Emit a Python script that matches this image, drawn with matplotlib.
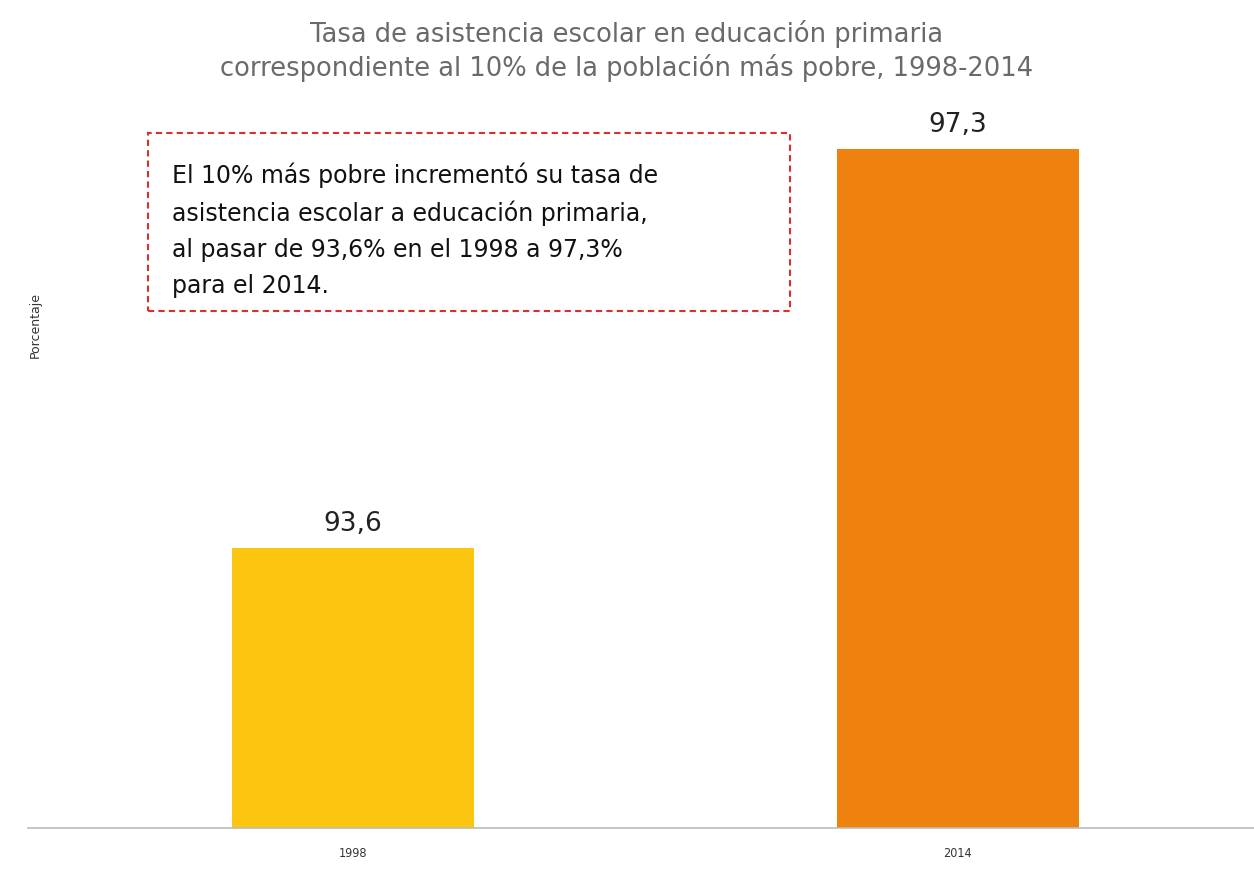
import matplotlib.pyplot as plt
from matplotlib.patches import FancyBboxPatch

years = ['1998', '2014']
values = [93.6, 97.3]
value_labels = ['93,6', '97,3']
bar_colors = ['#FCC510', '#EF820F']

title = ('Tasa de asistencia escolar en educación primaria\n'
         'correspondiente al 10% de la población más pobre, 1998-2014')
note = ('El 10% más pobre incrementó su tasa de\n'
        'asistencia escolar a educación primaria,\n'
        'al pasar de 93,6% en el 1998 a 97,3%\n'
        'para el 2014.')

W, H = 1254, 869
fig = plt.figure(figsize=(W / 100, H / 100), dpi=100)
ax = fig.add_axes([28 / W, (H - 828) / H, (W - 28) / W, (828 - 110) / H])

x = range(len(years))
ax.bar(x, values, width=0.4, color=bar_colors, zorder=2)
ax.set_xlim(-0.537, 1.49)
ax.set_ylim(91.0, 97.66)

for xi, v, lab in zip(x, values, value_labels):
    ax.text(xi, v + 0.1, lab, ha='center', va='bottom', fontsize=19, color='#222222')

for s in ['top', 'right', 'left']:
    ax.spines[s].set_visible(False)
ax.spines['bottom'].set_color('#bbbbbb')
ax.spines['bottom'].set_linewidth(1.2)
ax.set_yticks([])
ax.set_xticks(list(x))
ax.set_xticklabels(years, fontsize=9, color='#333333', fontstretch='condensed')
ax.tick_params(axis='x', length=0, pad=14)

fig.text(35 / W, 1 - 325 / H, 'Porcentaje', rotation=90, ha='center', va='center',
         fontsize=9, color='#333333')

fig.text(0.5, 1 - 51 / H, title, ha='center', va='center', fontsize=18.5,
         color='#6a6a6a', linespacing=1.25)

box = FancyBboxPatch((148 / W, 1 - 311 / H), (790 - 148) / W, (311 - 133) / H,
                     boxstyle='square,pad=0', transform=fig.transFigure,
                     facecolor='white', edgecolor='#D9302C', linestyle=(0, (3, 2)),
                     linewidth=1.5, zorder=3)
fig.add_artist(box)
fig.text(172 / W, 1 - 230 / H, note, ha='left', va='center', fontsize=17,
         color='#111111', linespacing=1.62, zorder=4)

fig.savefig('out.png', dpi=100)
